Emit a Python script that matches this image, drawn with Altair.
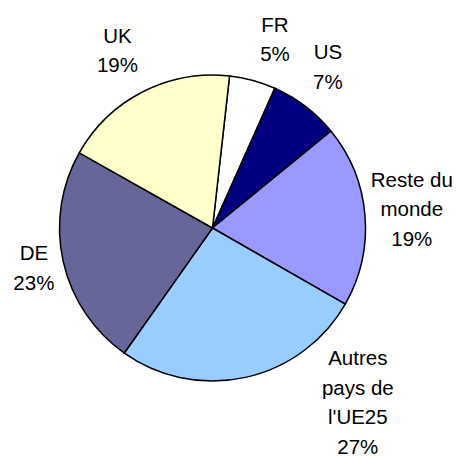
import math
import altair as alt
import pandas as pd

# --- data ---
categories = ["FR", "US", "Reste du monde", "Autres pays de l'UE25", "DE", "UK"]
values = [4.9, 7.4, 19.2, 26.5, 23.4, 18.6]
name_lines = ["FR", "US", "Reste du\nmonde", "Autres\npays de\nl'UE25", "DE", "UK"]
pct_labels = ["5%", "7%", "19%", "27%", "23%", "19%"]
colors = ["#FFFFFF", "#000080", "#9999FF", "#99CCFF", "#666699", "#FFFFCC"]

df = pd.DataFrame({
    "idx": list(range(len(categories))),
    "cat": categories,
    "value": values,
    "label": [n + "\n" + p for n, p in zip(name_lines, pct_labels)],
})
total = float(sum(values))

# --- layout / style ---
start = math.radians(6.4)
theta_scale = alt.Scale(domain=[0, total], range=[start, start + 2 * math.pi])
cx, cy = 204.5, 220
R = 153
label_r = 200
font = "Liberation Sans"
fsize = 20.5
lh = 29.5
nudges = [(10, -3.5), (-6, -9.7), (0, -24.8), (102, -58), (16.5, -11.5), (-4, -7)]

base = alt.Chart(df)

arcs = base.mark_arc(outerRadius=R, stroke="black", strokeWidth=1.5).encode(
    theta=alt.Theta("value:Q", stack=True, scale=theta_scale),
    order=alt.Order("idx:Q"),
    color=alt.Color("cat:N", scale=alt.Scale(domain=categories, range=colors), legend=None),
    x=alt.value(cx),
    y=alt.value(cy),
)

layers = [arcs]
for i, (dx, dy) in enumerate(nudges):
    t = (
        base.transform_window(cum="sum(value)", sort=[alt.SortField("idx")])
        .transform_calculate(mid="datum.cum - datum.value / 2")
        .transform_filter(alt.datum.idx == i)
        .mark_text(
            radius=label_r, dx=dx, dy=dy, align="center", baseline="alphabetic",
            font=font, fontSize=fsize, lineBreak="\n", lineHeight=lh, color="black",
        )
        .encode(
            theta=alt.Theta("mid:Q", scale=theta_scale),
            text="label:N",
            x=alt.value(cx),
            y=alt.value(cy),
        )
    )
    layers.append(t)

chart = alt.layer(*layers).properties(
    width=447, height=448,
    autosize=alt.AutoSizeParams(type="none"),
    padding=0,
).configure_view(stroke=None)

chart.save("out.html", embed_options={"renderer": "svg", "actions": False})
